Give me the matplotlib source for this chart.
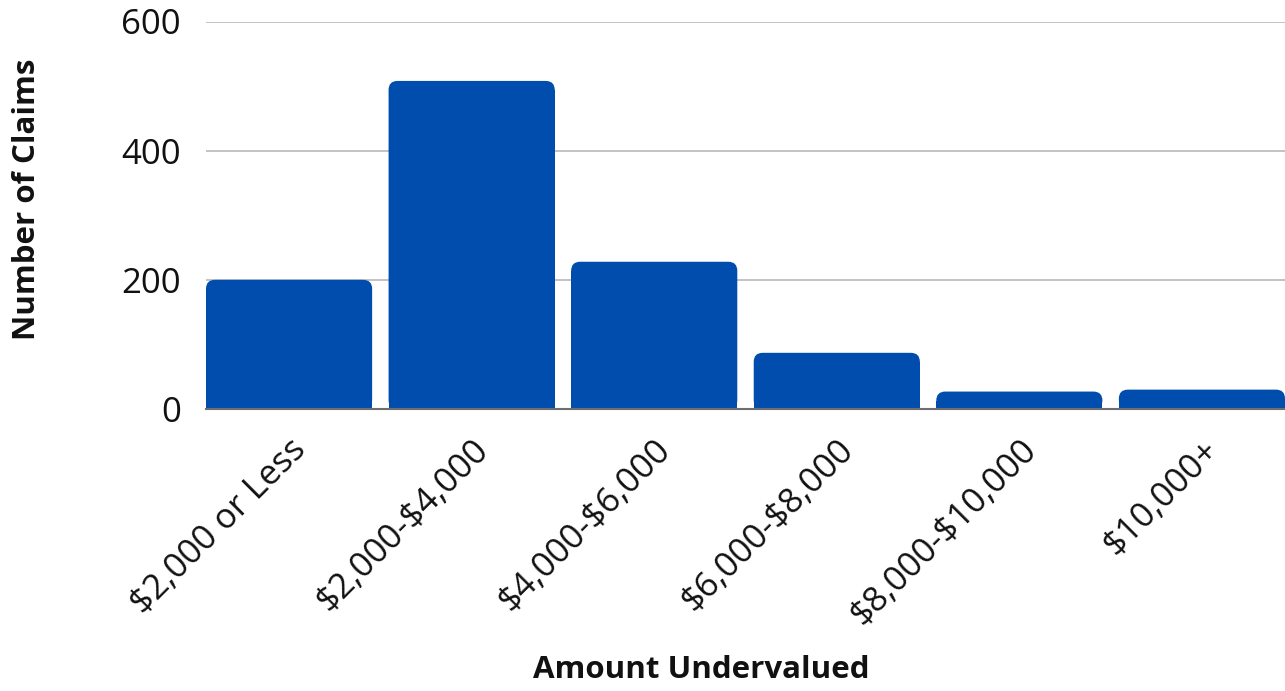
import matplotlib
matplotlib.use("Agg")
import matplotlib.pyplot as plt
from matplotlib.patches import FancyBboxPatch, Rectangle

# data
categories = ["$2,000 or Less", "$2,000-$4,000", "$4,000-$6,000",
              "$6,000-$8,000", "$8,000-$10,000", "$10,000+"]
claims = [200, 508, 228, 87, 27, 30]
y_ticks = [0, 200, 400, 600]

bar_color = "#014DAE"
plt.rcParams["font.family"] = ["Open Sans", "DejaVu Sans"]
plt.rcParams["text.parse_math"] = False

fig = plt.figure(figsize=(12.85, 6.91), dpi=100)
ax = fig.add_axes([206 / 1285, 1 - 409 / 691, 1079 / 1285, (409 - 21.5) / 691])

width = 0.91
ax.set_xlim(-width / 2, len(categories) - 1 + width / 2)
ax.set_ylim(0, 600)

# rounded top corners: radius in pixels converted to data units
px_x = (len(categories) - 1 + width) / 1079
px_y = 600 / (409 - 21.5)
r_px = 9
rx, ry = r_px * px_x, r_px * px_y

bars = ax.bar(range(len(categories)), claims, width=width, color="none", zorder=2)
for b in bars:
    x0, w, h = b.get_x(), b.get_width(), b.get_height()
    ax.add_patch(FancyBboxPatch((x0, 0), w, h,
                                boxstyle=f"round,pad=0,rounding_size={rx}",
                                mutation_aspect=ry / rx,
                                fc=bar_color, ec="none", zorder=3))
    ax.add_patch(Rectangle((x0, 0), w, max(h - ry, 0),
                           fc=bar_color, ec="none", zorder=3))

ax.set_yticks(y_ticks)
ax.set_yticklabels([str(v) for v in y_ticks], fontsize=25, color="#111111")
ax.tick_params(axis="y", length=0, pad=18)
ax.yaxis.grid(True, color="#C3C3C3", linewidth=1.4, zorder=0)
ax.set_axisbelow(True)

ax.set_xticks(range(len(categories)))
ax.set_xticklabels(categories, rotation=45, ha="right", rotation_mode="anchor",
                   fontsize=25, color="#111111")
ax.tick_params(axis="x", length=0, pad=17)

for s in ["top", "right", "left"]:
    ax.spines[s].set_visible(False)
ax.spines["bottom"].set_color("#6E6E6E")
ax.spines["bottom"].set_linewidth(1.5)
ax.spines["bottom"].set_zorder(4)

fig.text(701 / 1285, 1 - 670 / 691, "Amount Undervalued", ha="center", va="center",
         fontsize=22.5, fontweight="bold", color="#111111")
fig.text(27 / 1285, 1 - 199 / 691, "Number of Claims", ha="center", va="center",
         rotation=90, fontsize=22.5, fontweight="bold", color="#111111")

fig.savefig("out.png", dpi=100, facecolor="white")
